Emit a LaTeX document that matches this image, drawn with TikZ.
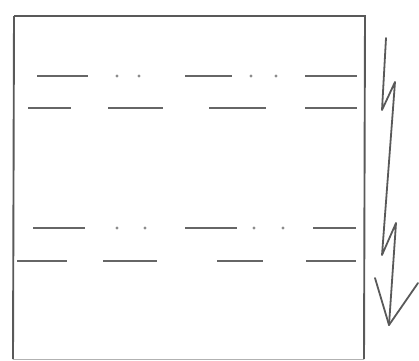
\documentclass[tikz,border=0pt]{standalone}
\begin{document}
\begin{tikzpicture}[x=1pt,y=-1pt,
  frame/.style={draw=black!65,line width=1.9pt},
  dashline/.style={draw=black!60,line width=2.6pt},
  dotmark/.style={fill=black!45},
  zig/.style={draw=black!65,line width=1.8pt,line join=round,line cap=round}]
\useasboundingbox (0,0) rectangle (419,360);
\draw[frame] (14,16) -- (365,16) -- (364,359);
\draw[frame] (14,16) -- (13,359);
\draw[draw=black!30,line width=1pt] (13,359) -- (364,359);
% row 1
\foreach \a/\b in {37/88,185/232,305/357} \draw[dashline] (\a,76) -- (\b,76);
\foreach \a/\b in {28/71,108/163,209/266,305/357} \draw[dashline] (\a,108) -- (\b,108);
\foreach \p in {117,139,251,276} \fill[dotmark] (\p,76) circle (1.6);
% row 2
\foreach \a/\b in {33/85,185/237,313/356} \draw[dashline] (\a,228) -- (\b,228);
\foreach \a/\b in {17/67,103/157,217/263,306/356} \draw[dashline] (\a,261) -- (\b,261);
\foreach \p in {117,145,254,283} \fill[dotmark] (\p,228) circle (1.6);
% zigzag arrow
\draw[zig] (386,38) -- (382,110) -- (395,82) -- (382,255) -- (396,223) -- (389,325);
\draw[zig] (375,278) -- (389,325) -- (418,283);
\end{tikzpicture}
\end{document}
